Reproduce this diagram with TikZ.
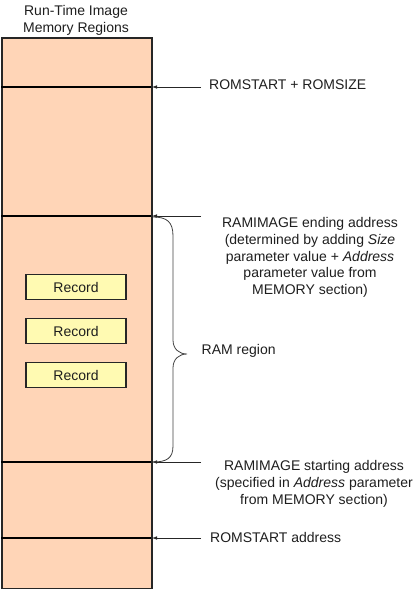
\documentclass[tikz,border=0pt]{standalone}
\usepackage{fontspec}
\setmainfont{Liberation Sans}
\usetikzlibrary{arrows.meta}
\definecolor{peach}{RGB}{255,213,183}
\definecolor{recfill}{RGB}{255,250,178}
\definecolor{txt}{RGB}{30,30,30}
\tikzset{
  lbl/.style={inner sep=0pt, text=txt, font=\fontsize{14}{16.6}\selectfont},
  mlbl/.style={lbl, align=center},
  arr/.style={draw=black!85, line width=0.8pt, -{Latex[length=5pt,width=3.6pt]}},
  sepline/.style={draw=black, line width=1.8pt},
  recbox/.style={draw=black!85, line width=1.4pt, fill=recfill, minimum width=100pt, minimum height=25.5pt, inner sep=0pt, text=txt, font=\fontsize{14}{16.6}\selectfont},
  bracestyle/.style={draw=black!75, line width=0.8pt}
}
\begin{document}
\begin{tikzpicture}[x=1pt,y=-1pt]
\useasboundingbox (0,0) rectangle (418,589);
% memory column
\node[draw=black!85, line width=1.8pt, fill=peach, minimum width=150pt, minimum height=551pt, inner sep=0pt, anchor=north west] (mem) at (1,37) {};
\node[mlbl, anchor=north] (title) at (76,5.5) {Run-Time Image\\Memory Regions};
% separators
\coordinate (s1l) at (1,87);   \coordinate (s1r) at (151,87);
\coordinate (s2l) at (1,216);  \coordinate (s2r) at (151,216);
\coordinate (s3l) at (1,462);  \coordinate (s3r) at (151,462);
\coordinate (s4l) at (1,538);  \coordinate (s4r) at (151,538);
\draw[sepline] (s1l) -- (s1r);
\draw[sepline] (s2l) -- (s2r);
\draw[sepline] (s3l) -- (s3r);
\draw[sepline] (s4l) -- (s4r);
% records
\node[recbox] (r1) at (76,287) {Record};
\node[recbox] (r2) at (76,331) {Record};
\node[recbox] (r3) at (76,375) {Record};
% arrows
\coordinate (a1) at (201,87);
\coordinate (a2) at (201,216);
\coordinate (a3) at (201,462);
\coordinate (a4) at (201,538);
\draw[arr] (a1) -- ([xshift=1pt]s1r);
\draw[arr] (a2) -- ([xshift=1pt]s2r);
\draw[arr] (a3) -- ([xshift=1pt]s3r);
\draw[arr] (a4) -- ([xshift=1pt]s4r);
% labels
\node[lbl, anchor=base west] (l1) at (209,89.5) {ROMSTART + ROMSIZE};
\node[mlbl, anchor=north] (l2) at (310,217.5) {RAMIMAGE ending address\\(determined by adding \textit{Size}\\parameter value + \textit{Address}\\parameter value from\\MEMORY section)};
\node[lbl, anchor=base west] (l3) at (201.5,354) {RAM region};
\node[mlbl, anchor=north] (l4) at (314,460.5) {RAMIMAGE starting address\\(specified in \textit{Address} parameter\\from MEMORY section)};
\node[lbl, anchor=base west] (l5) at (210,542) {ROMSTART address};
% brace
\coordinate (btop) at (153,217);
\coordinate (btip) at (187,354);
\coordinate (bbot) at (153,462);
\draw[bracestyle] (btop) .. controls (167,217) and (173,222) .. (173,236) -- (173,340)
  .. controls (173,349) and (179,354) .. (btip)
  .. controls (179,354) and (173,359) .. (173,368) -- (173,446)
  .. controls (173,458) and (167,462) .. (bbot);
\end{tikzpicture}
\end{document}
